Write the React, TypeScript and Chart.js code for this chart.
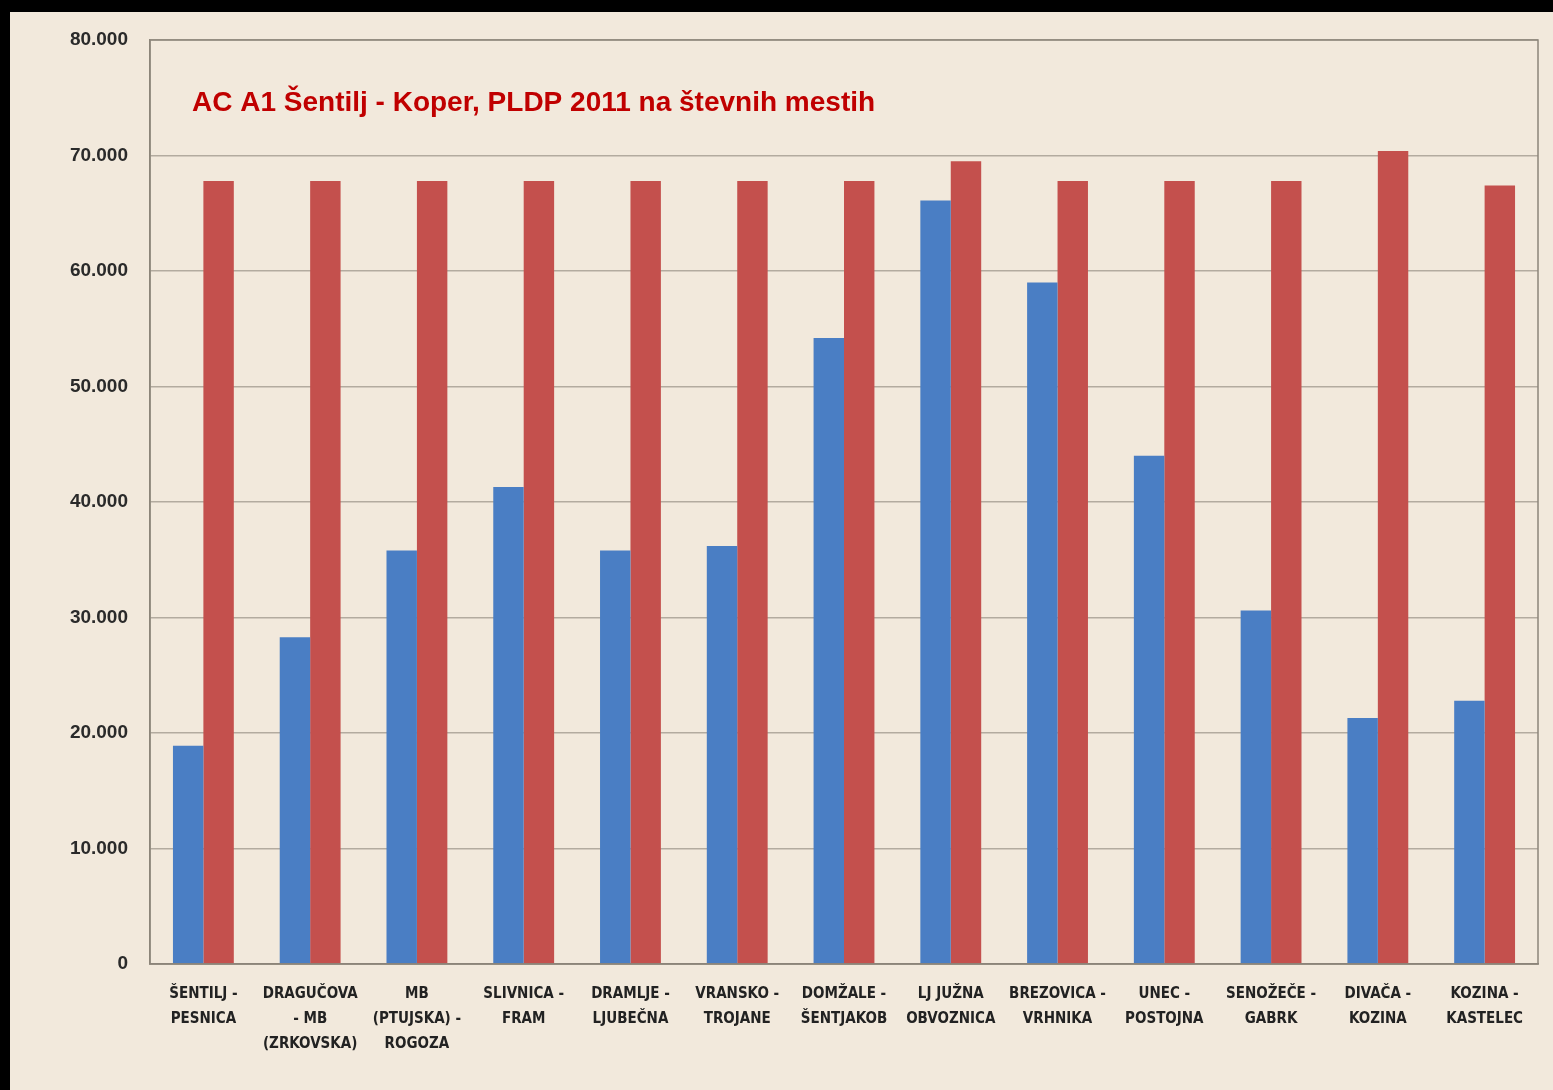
import { useEffect, useRef } from 'react';
import { Chart, registerables } from 'chart.js';

Chart.register(...registerables);

const categories: string[][] = [
  ['ŠENTILJ -', 'PESNICA'],
  ['DRAGUČOVA', '- MB', '(ZRKOVSKA)'],
  ['MB', '(PTUJSKA) -', 'ROGOZA'],
  ['SLIVNICA -', 'FRAM'],
  ['DRAMLJE -', 'LJUBEČNA'],
  ['VRANSKO -', 'TROJANE'],
  ['DOMŽALE -', 'ŠENTJAKOB'],
  ['LJ JUŽNA', 'OBVOZNICA'],
  ['BREZOVICA -', 'VRHNIKA'],
  ['UNEC -', 'POSTOJNA'],
  ['SENOŽEČE -', 'GABRK'],
  ['DIVAČA -', 'KOZINA'],
  ['KOZINA -', 'KASTELEC'],
];

// PLDP 2011 (blue)
const pldp2011 = [
  18900, 28300, 35800, 41300, 35800, 36200, 54200, 66100, 59000, 44000, 30600, 21300, 22800,
];

// red series
const capacity = [
  67800, 67800, 67800, 67800, 67800, 67800, 67800, 69500, 67800, 67800, 67800, 70400, 67400,
];

const titleText = 'AC A1 Šentilj - Koper, PLDP 2011 na števnih mestih';

const BG = '#f2e9dc';

const frameAndTitle = {
  id: 'frameAndTitle',
  afterDatasetsDraw(chart: Chart) {
    const { ctx, chartArea } = chart;
    ctx.save();
    ctx.strokeStyle = '#8c857a';
    ctx.lineWidth = 1.5;
    ctx.strokeRect(chartArea.left, chartArea.top, chartArea.right - chartArea.left, chartArea.bottom - chartArea.top);
    ctx.fillStyle = '#c00000';
    ctx.font = "bold 28px 'Liberation Sans', sans-serif";
    ctx.textBaseline = 'middle';
    ctx.textAlign = 'left';
    ctx.fillText(titleText, chartArea.left + 42, 91);
    ctx.restore();
  },
};

export default function App() {
  const chartRef = useRef<HTMLCanvasElement>(null);
  const chartInstanceRef = useRef<Chart | null>(null);

  useEffect(() => {
    if (!chartRef.current) return;
    const ctx = chartRef.current.getContext('2d');
    if (!ctx) return;
    if (chartInstanceRef.current) chartInstanceRef.current.destroy();

    chartInstanceRef.current = new Chart(ctx, {
      type: 'bar',
      data: {
        labels: categories,
        datasets: [
          {
            label: 'PLDP 2011',
            data: pldp2011,
            backgroundColor: '#4a7ec4',
            categoryPercentage: 0.57,
            barPercentage: 1.0,
          },
          {
            label: 'Kapaciteta',
            data: capacity,
            backgroundColor: '#c4504d',
            categoryPercentage: 0.57,
            barPercentage: 1.0,
          },
        ],
      },
      plugins: [frameAndTitle],
      options: {
        animation: false,
        responsive: true,
        maintainAspectRatio: false,
        layout: { padding: { top: 28, right: 15, left: 0, bottom: 0 } },
        plugins: {
          legend: { display: false },
          title: { display: false },
          tooltip: { enabled: false },
        },
        scales: {
          x: {
            grid: { display: false },
            border: { display: true, color: '#8c857a', width: 1.5 },
            afterFit: (scale: any) => {
              scale.height = 126;
            },
            ticks: {
              autoSkip: false,
              maxRotation: 0,
              minRotation: 0,
              padding: 10,
              color: '#222',
              font: { family: "'Liberation Sans Narrow', 'DejaVu Sans Condensed', 'Liberation Sans', sans-serif", size: 15, weight: 'bold', lineHeight: 1.65 },
            },
          },
          y: {
            min: 0,
            max: 80000,
            afterFit: (scale: any) => {
              scale.width = 140;
              scale.paddingTop = 0;
              scale.paddingBottom = 0;
            },
            grid: { color: '#b3ab9f', lineWidth: 1.5, drawTicks: false },
            border: { display: true, color: '#8c857a', width: 1.5 },
            ticks: {
              stepSize: 10000,
              padding: 22,
              color: '#2a2a2a',
              font: { family: "'Liberation Sans', sans-serif", size: 19, weight: 'bold' },
              callback: (v: any) => Number(v).toLocaleString('de-DE'),
            },
          },
        },
      },
    });

    return () => {
      if (chartInstanceRef.current) {
        chartInstanceRef.current.destroy();
        chartInstanceRef.current = null;
      }
    };
  }, []);

  return (
    <div style={{ position: 'fixed', inset: 0, background: '#000' }}>
      <div style={{ position: 'absolute', left: 10, top: 12, right: 0, bottom: 0, background: BG }}>
        <canvas ref={chartRef} />
      </div>
    </div>
  );
}
